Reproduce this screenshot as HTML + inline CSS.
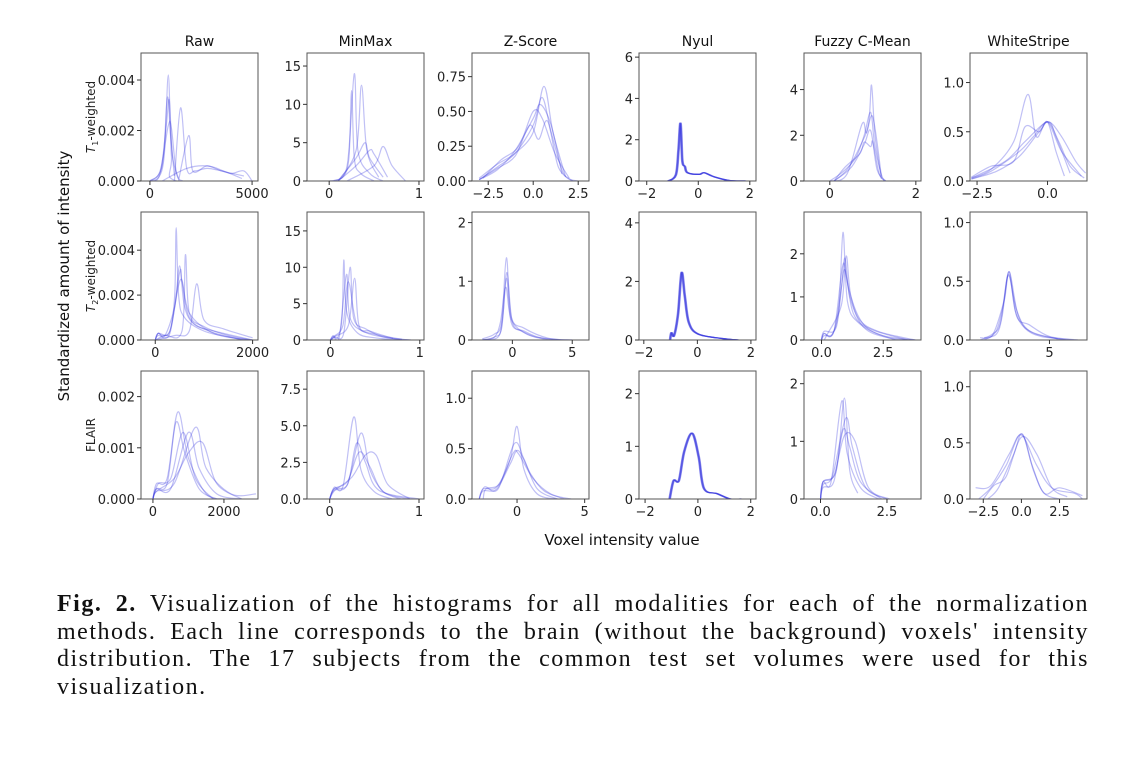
<!DOCTYPE html>
<html><head><meta charset="utf-8">
<style>
body{margin:0;background:#fff;width:1145px;height:757px;overflow:hidden;position:relative}
svg{position:absolute;left:0;top:0}
#cap{position:absolute;left:57px;top:591px;width:1032px;font-family:"Liberation Serif",serif;font-size:24px;letter-spacing:1.5px;line-height:27.7px;color:#111}
#cap .ln{text-align:justify;text-align-last:justify;white-space:nowrap;}
#cap .ln.last{text-align-last:left}
</style></head><body>
<svg id="fig" width="1145" height="580" font-family="DejaVu Sans, Liberation Sans, sans-serif"></svg>
<div id="cap">
<div class="ln"><b>Fig. 2.</b> Visualization of the histograms for all modalities for each of the normalization</div>
<div class="ln">methods. Each line corresponds to the brain (without the background) voxels' intensity</div>
<div class="ln">distribution. The 17 subjects from the common test set volumes were used for this</div>
<div class="ln last">visualization.</div>
</div>
<script>
const colTitles=["Raw","MinMax","Z-Score","Nyul","Fuzzy C-Mean","WhiteStripe"];
const rowLabels=["T1","T2","FLAIR"];
const xRanges=[[-437,5290],[-0.247,1.056],[-3.4,3.1],[-2.3,2.24],[-0.6,2.12],[-2.75,1.4],
[-293,2111],[-0.262,1.047],[-3.37,6.4],[-2.18,2.19],[-0.71,4.03],[-4.74,9.6],
[-336,2959],[-0.254,1.056],[-3.33,5.32],[-2.23,2.2],[-0.62,3.78],[-3.37,4.3]];
const yMax=[0.00507,16.7,0.92,6.2,5.6,1.3, 0.0057,17.6,2.18,4.37,2.97,1.09, 0.0025,8.74,1.27,2.43,2.22,1.14];
const xTicks=[[0,5000],[0,1],[-2.5,0,2.5],[-2,0,2],[0,2],[-2.5,0],
[0,2000],[0,1],[0,5],[-2,0,2],[0,2.5],[0,5],
[0,2000],[0,1],[0,5],[-2,0,2],[0,2.5],[-2.5,0,2.5]];
const xTickLabels=[["0","5000"],["0","1"],["−2.5","0.0","2.5"],["−2","0","2"],["0","2"],["−2.5","0.0"],
["0","2000"],["0","1"],["0","5"],["−2","0","2"],["0.0","2.5"],["0","5"],
["0","2000"],["0","1"],["0","5"],["−2","0","2"],["0.0","2.5"],["−2.5","0.0","2.5"]];
const yTicks=[[0,0.002,0.004],[0,5,10,15],[0,0.25,0.5,0.75],[0,2,4,6],[0,2,4],[0,0.5,1.0],
[0,0.002,0.004],[0,5,10,15],[0,1,2],[0,2,4],[0,1,2],[0,0.5,1.0],
[0,0.001,0.002],[0,2.5,5,7.5],[0,0.5,1.0],[0,1,2],[0,1,2],[0,0.5,1.0]];
const yTickLabels=[["0.000","0.002","0.004"],["0","5","10","15"],["0.00","0.25","0.50","0.75"],["0","2","4","6"],["0","2","4"],["0.0","0.5","1.0"],
["0.000","0.002","0.004"],["0","5","10","15"],["0","1","2"],["0","2","4"],["0","1","2"],["0.0","0.5","1.0"],
["0.000","0.001","0.002"],["0.0","2.5","5.0","7.5"],["0.0","0.5","1.0"],["0","1","2"],["0","1","2"],["0.0","0.5","1.0"]];
const nyT1=[[-1.2,0],[-0.9,0.3],[-0.8,1.5],[-0.72,2.8],[-0.65,1],[-0.55,0.7],[-0.45,0.4],[0,0.32],[0.2,0.4],[0.6,0.2],[1.2,0.02],[1.8,0]];
const nyT2=[[-1.05,0],[-1,0.25],[-0.9,0.15],[-0.75,0.9],[-0.62,2.3],[-0.5,1.5],[-0.35,0.6],[0,0.2],[0.9,0.05],[1.5,0]];
const nyFL=[[-1.1,0],[-0.95,0.35],[-0.75,0.35],[-0.55,0.9],[-0.25,1.25],[0,0.8],[0.2,0.2],[0.7,0.1],[1.2,0],[1.6,0]];
const curves=[
[[[0,0],[400,0.0001],[700,0.001],[900,0.0042],[1050,0.001],[1300,0],[5000,0]],[[0,0],[500,0.0003],[800,0.0022],[950,0.0032],[1100,0.001],[1400,0.0001]],[[0,0],[500,0.0004],[900,0.0022],[1050,0.0021],[1300,0.0003],[1600,0]],[[1200,0],[1500,0.0029],[1800,0.0005],[2200,0.0004],[2800,0.0005],[3500,0.0004],[4000,0.0003],[4600,0.0004],[5000,0]],[[1400,0],[1900,0.0018],[2100,0.0004],[2800,0.0006],[3500,0.0004],[4600,0.0002]],[[600,0],[1800,0.0005],[2800,0.0006],[3600,0.0004],[4500,0.0001]],[[0,0],[600,0.0006],[850,0.0033],[1000,0.0019],[1200,0.0002]]],
[[[0,0],[0.15,0.5],[0.22,3],[0.25,11.8],[0.28,3],[0.35,1],[0.5,0]],[[0.05,0],[0.2,2],[0.28,14],[0.32,4],[0.45,1],[0.6,0]],[[0.1,0],[0.3,4],[0.36,12.5],[0.42,4],[0.55,0.5]],[[0.1,0],[0.3,3],[0.4,5],[0.45,3],[0.6,0.5]],[[0.2,0],[0.5,2],[0.6,4.5],[0.7,2],[0.85,0]],[[0.1,0],[0.3,2],[0.45,4],[0.5,3.5],[0.65,0.5]]],
[[[-3,0.01],[-2,0.1],[-1,0.2],[0,0.4],[0.5,0.6],[1,0.35],[1.7,0.05],[2.5,0]],[[-3,0.02],[-2,0.12],[-1,0.2],[0,0.35],[0.6,0.68],[1.1,0.35],[1.8,0.03]],[[-3,0.01],[-2,0.08],[-1,0.22],[0,0.45],[0.4,0.55],[1,0.4],[1.6,0.05]],[[-3,0.01],[-2,0.09],[-1,0.18],[-0.2,0.4],[0.3,0.3],[0.8,0.43],[1.4,0.1],[2.2,0]],[[-2.8,0.02],[-1.8,0.15],[-0.8,0.25],[0,0.5],[0.5,0.45],[1.2,0.2],[2,0.02]]],
[nyT1,nyT1,nyT1,nyT1,nyT1],
[[[0,0],[0.3,0.4],[0.6,1],[0.8,2],[0.95,3],[1.05,1.5],[1.25,0.05],[1.5,0]],[[0.1,0],[0.4,0.5],[0.7,1.5],[0.9,2.5],[0.97,4.2],[1.05,2],[1.2,0.1]],[[0.1,0],[0.35,0.6],[0.7,1.2],[0.8,1.7],[0.95,1.5],[1,1.7],[1.15,0.3],[1.3,0]],[[0,0],[0.4,0.3],[0.75,2.5],[0.85,2.1],[1,2.8],[1.2,0.2]],[[0.1,0],[0.5,0.6],[0.8,1.6],[0.95,2.2],[1.1,0.5],[1.3,0]]],
[[[-2.7,0.02],[-2,0.1],[-1,0.3],[-0.5,0.45],[0,0.6],[0.4,0.4],[0.8,0.15],[1.3,0.03]],[[-2.7,0.03],[-2,0.12],[-1.2,0.4],[-0.7,0.88],[-0.4,0.45],[0,0.6],[0.5,0.3],[1.2,0.05]],[[-2.7,0.04],[-2,0.15],[-1.2,0.2],[-0.8,0.55],[-0.3,0.5],[0,0.6],[0.3,0.3],[0.6,0.05]],[[-2.7,0.02],[-1.8,0.1],[-1,0.25],[-0.3,0.5],[0.05,0.6],[0.5,0.45],[1,0.2],[1.35,0.08]],[[-2.7,0.03],[-1.5,0.2],[-0.8,0.4],[0,0.6],[0.3,0.45],[0.8,0.08]]],
[[[0,0],[60,0.0003],[150,0.0002],[300,0.0004],[400,0.002],[430,0.005],[480,0.002],[600,0.001],[1000,0.0004],[1600,0.0001],[2000,0]],[[0,0],[60,0.0003],[200,0.0002],[400,0.0015],[500,0.0033],[600,0.0015],[800,0.0007],[1200,0.0004],[2000,0]],[[0,0],[60,0.0002],[300,0.0003],[500,0.003],[550,0.0026],[700,0.001],[1100,0.0004],[1800,0]],[[0,0],[200,0.0002],[550,0.0004],[620,0.0038],[700,0.0012],[1000,0.0006],[1500,0.0002],[2000,0]],[[0,0],[400,0.0002],[700,0.0004],[850,0.0025],[1000,0.0009],[1400,0.0005],[2000,0.0001]],[[0,0],[60,0.0003],[300,0.0004],[520,0.0027],[700,0.0012],[1200,0.0003],[1900,0]]],
[[[0,0],[0.03,0.6],[0.08,0.3],[0.13,3],[0.15,11],[0.18,4],[0.3,1],[0.5,0.3],[0.8,0]],[[0,0],[0.03,0.5],[0.1,0.5],[0.18,9],[0.22,3],[0.4,1],[0.7,0.2],[0.9,0]],[[0,0],[0.05,0.4],[0.15,1],[0.22,10],[0.26,3],[0.4,1.5],[0.6,0.4],[0.9,0]],[[0,0],[0.04,0.5],[0.14,2],[0.2,8],[0.3,2],[0.5,0.8],[0.8,0.1]],[[0,0],[0.05,0.5],[0.2,2],[0.27,8.5],[0.32,2],[0.45,1.2],[0.7,0.2]]],
[[[-2.5,0],[-1.5,0.05],[-0.9,0.2],[-0.5,1.05],[-0.1,0.3],[0.8,0.15],[2,0.05],[4,0]],[[-2.5,0.02],[-1.5,0.1],[-0.9,0.3],[-0.5,1.4],[-0.1,0.4],[1,0.2],[3,0.03],[5,0]],[[-2.5,0.01],[-1.2,0.05],[-0.8,0.4],[-0.45,1.15],[0,0.3],[1,0.15],[2.5,0.03],[5,0]],[[-2.5,0],[-1.5,0.05],[-1,0.3],[-0.55,0.9],[-0.1,0.35],[1.2,0.1],[3,0]]],
[nyT2,nyT2,nyT2,nyT2,nyT2],
[[[0,0],[0.1,0.15],[0.4,0.1],[0.7,0.7],[0.87,2.5],[1.05,0.9],[1.5,0.4],[2.5,0.1],[3.8,0]],[[0,0],[0.1,0.1],[0.5,0.2],[0.8,1.2],[0.95,1.9],[1.15,1],[1.7,0.3],[2.7,0.05],[3.8,0]],[[0,0],[0.1,0.15],[0.5,0.2],[0.85,1.7],[1,1.5],[1.3,0.6],[2,0.25],[3.5,0]],[[0,0],[0.1,0.2],[0.6,0.3],[0.9,1.6],[1.1,1.2],[1.5,0.5],[2.3,0.2],[3.8,0]],[[0.1,0],[0.2,0.1],[0.8,0.8],[1.0,1.95],[1.2,1.0],[1.8,0.3],[3,0]]],
[[[-3.5,0],[-2,0.05],[-1,0.15],[0,0.58],[0.8,0.25],[2,0.1],[4,0.03],[8,0]],[[-3,0.02],[-1.5,0.05],[-0.8,0.2],[0,0.56],[1,0.2],[2.5,0.13],[5,0.03],[8.5,0]],[[-3.5,0.02],[-2,0.04],[-0.7,0.3],[0,0.55],[1,0.25],[2.5,0.08],[6,0.01]],[[-3,0],[-1.5,0.08],[-0.5,0.35],[0.1,0.58],[1.2,0.2],[3,0.06],[7,0]]],
[[[0,0],[100,0.0003],[400,0.0004],[700,0.0017],[1000,0.0008],[1500,0.0001],[2000,0]],[[0,0],[100,0.0002],[400,0.0003],[650,0.0015],[900,0.0009],[1300,0.0002],[1800,0]],[[0,0],[100,0.0002],[500,0.0002],[1000,0.0013],[1300,0.0006],[1800,0.0001],[2500,0]],[[0,0],[100,0.00015],[600,0.0003],[1200,0.0014],[1500,0.0006],[2200,0.0001],[2900,0.0001]],[[0,0],[100,0.00015],[600,0.0004],[1000,0.0009],[1400,0.0011],[1800,0.0003],[2500,0]],[[0,0],[150,0.0003],[500,0.0004],[850,0.0013],[1200,0.0004],[1700,0]]],
[[[0,0],[0.05,0.8],[0.15,0.9],[0.27,5.6],[0.35,2],[0.5,0.5],[0.7,0]],[[0,0],[0.05,0.6],[0.2,1],[0.35,4.5],[0.45,2],[0.6,0.5],[0.8,0]],[[0,0],[0.05,0.7],[0.2,1.2],[0.33,3.2],[0.45,2.2],[0.6,0.5],[0.9,0]],[[0,0],[0.06,0.6],[0.25,1.5],[0.4,3],[0.52,3],[0.65,1],[0.9,0]],[[0,0],[0.05,0.7],[0.2,1],[0.3,3.8],[0.4,2.5],[0.55,0.6],[1,0]]],
[[[-2.8,0],[-2.5,0.1],[-1.5,0.12],[-0.5,0.4],[0,0.72],[0.5,0.3],[1.5,0.05],[3,0]],[[-2.8,0],[-2.5,0.08],[-1.5,0.1],[-0.5,0.35],[0.1,0.48],[1,0.25],[2,0.08],[3.5,0]],[[-2.5,0],[-2.3,0.1],[-1.3,0.15],[-0.3,0.45],[0.1,0.45],[1.2,0.2],[2.5,0.05],[4,0]],[[-2.8,0],[-2.4,0.12],[-1.4,0.1],[-0.2,0.55],[0.5,0.4],[1.5,0.1],[3,0]]],
[nyFL,nyFL,nyFL,nyFL,nyFL],
[[[0,0],[0.1,0.3],[0.4,0.3],[0.8,1.7],[1.0,0.8],[1.5,0.2],[2.2,0]],[[0,0],[0.1,0.25],[0.45,0.4],[0.95,1.4],[1.2,0.9],[1.7,0.2],[2.5,0]],[[0,0],[0.1,0.2],[0.5,0.3],[0.85,1.2],[1.1,0.9],[1.5,0.3],[2.3,0]],[[0,0],[0.1,0.3],[0.5,0.4],[0.9,1.1],[1.3,1],[1.8,0.2],[2.6,0]],[[0,0],[0.1,0.3],[0.6,0.5],[0.9,1.75],[1.1,0.5],[1.4,0.1]]],
[[[-2.8,0],[-2,0.1],[-1,0.3],[0,0.58],[0.8,0.25],[1.5,0.05],[2.5,0]],[[-3,0.1],[-2,0.12],[-0.8,0.4],[0,0.57],[1,0.3],[2,0.1],[3.5,0.05],[4,0]],[[-2.5,0],[-1.8,0.12],[-1,0.2],[0,0.55],[1,0.4],[2,0.1],[3,0.02]],[[-2.2,0],[-1.5,0.1],[-0.5,0.4],[0.05,0.58],[0.7,0.3],[1.5,0.05],[2.5,0.1],[4,0.03]]]
];
const NS="http://www.w3.org/2000/svg";
const svg=document.getElementById('fig');
const colX=[141,307,472,639,804,970], rowY=[53,212,371], PW=117, PH=128;
function mk(tag,attrs,parent){const e=document.createElementNS(NS,tag);for(const k in attrs)e.setAttribute(k,attrs[k]);(parent||svg).appendChild(e);return e;}
function smooth(pts){let d="M"+pts[0][0].toFixed(1)+","+pts[0][1].toFixed(1);
for(let i=0;i<pts.length-1;i++){const p0=pts[Math.max(0,i-1)],p1=pts[i],p2=pts[i+1],p3=pts[Math.min(pts.length-1,i+2)];
const c1x=p1[0]+(p2[0]-p0[0])/6,c1y=p1[1]+(p2[1]-p0[1])/6,c2x=p2[0]-(p3[0]-p1[0])/6,c2y=p2[1]-(p3[1]-p1[1])/6;
d+=` C${c1x.toFixed(1)},${c1y.toFixed(1)} ${c2x.toFixed(1)},${c2y.toFixed(1)} ${p2[0].toFixed(1)},${p2[1].toFixed(1)}`;}return d;}
const defs=mk('defs',{});
for(let r=0;r<3;r++)for(let c=0;c<6;c++){
 const i=r*6+c,L=colX[c],T=rowY[r],B=T+PH;
 const [x0,x1]=xRanges[i],ym=yMax[i];
 const sx=v=>L+(v-x0)/(x1-x0)*PW, sy=v=>B-v/ym*PH;
 const cp=mk('clipPath',{id:'cp'+i},defs);mk('rect',{x:L,y:T,width:PW,height:PH},cp);
 const g=mk('g',{'clip-path':'url(#cp'+i+')'});
 
 
 const same=curves[i][0]===curves[i][1];
 curves[i].forEach((cv,k)=>{
  const p=mk('path',{d:smooth(cv.map(q=>[sx(q[0])+(same?k*0.4:0),sy(q[1])])),fill:'none',stroke:'#3b3be0','stroke-opacity':same?0.5:0.32,'stroke-width':1.2},g);
  
  });
 const fr=mk('rect',{x:L,y:T,width:PW,height:PH,fill:'none',stroke:'#555','stroke-width':1});
 
 
 xTicks[i].forEach((v,k)=>{const x=sx(v);mk('line',{x1:x,x2:x,y1:B,y2:B+4,stroke:'#333'});
  const t=mk('text',{x:x,y:B+17,'font-size':13,'text-anchor':'middle',fill:'#222'});t.textContent=xTickLabels[i][k];
  
  });
 yTicks[i].forEach((v,k)=>{const y=sy(v);mk('line',{x1:L-4,x2:L,y1:y,y2:y,stroke:'#333'});
  const t=mk('text',{x:L-6,y:y+5,'font-size':13,'text-anchor':'end',fill:'#222'});t.textContent=yTickLabels[i][k];
  
  });
 if(r===0){const t=mk('text',{x:L+PW/2,y:T-7,'font-size':14,'text-anchor':'middle',fill:'#111'});t.textContent=colTitles[c];
  
  }
}
const rl=[["T","1","-weighted"],["T","2","-weighted"],["FLAIR"]];
rl.forEach((lab,r)=>{const cy=rowY[r]+PH/2;const t=mk('text',{transform:`translate(95,${cy}) rotate(-90)`,'font-size':12,'text-anchor':'middle',fill:'#222'});
 
 
 if(lab.length===1)t.textContent=lab[0];else{const a=mk('tspan',{'font-style':'italic'},t);a.textContent=lab[0];const b=mk('tspan',{'font-size':8,dy:3},t);b.textContent=lab[1];const cc=mk('tspan',{dy:-3},t);cc.textContent=lab[2];}});
const yl=mk('text',{transform:'translate(69,276) rotate(-90)','font-size':15,'text-anchor':'middle',fill:'#111'});yl.textContent='Standardized amount of intensity';


const xl=mk('text',{x:622,y:545,'font-size':15,'text-anchor':'middle',fill:'#111'});xl.textContent='Voxel intensity value';


</script>
</body></html>
